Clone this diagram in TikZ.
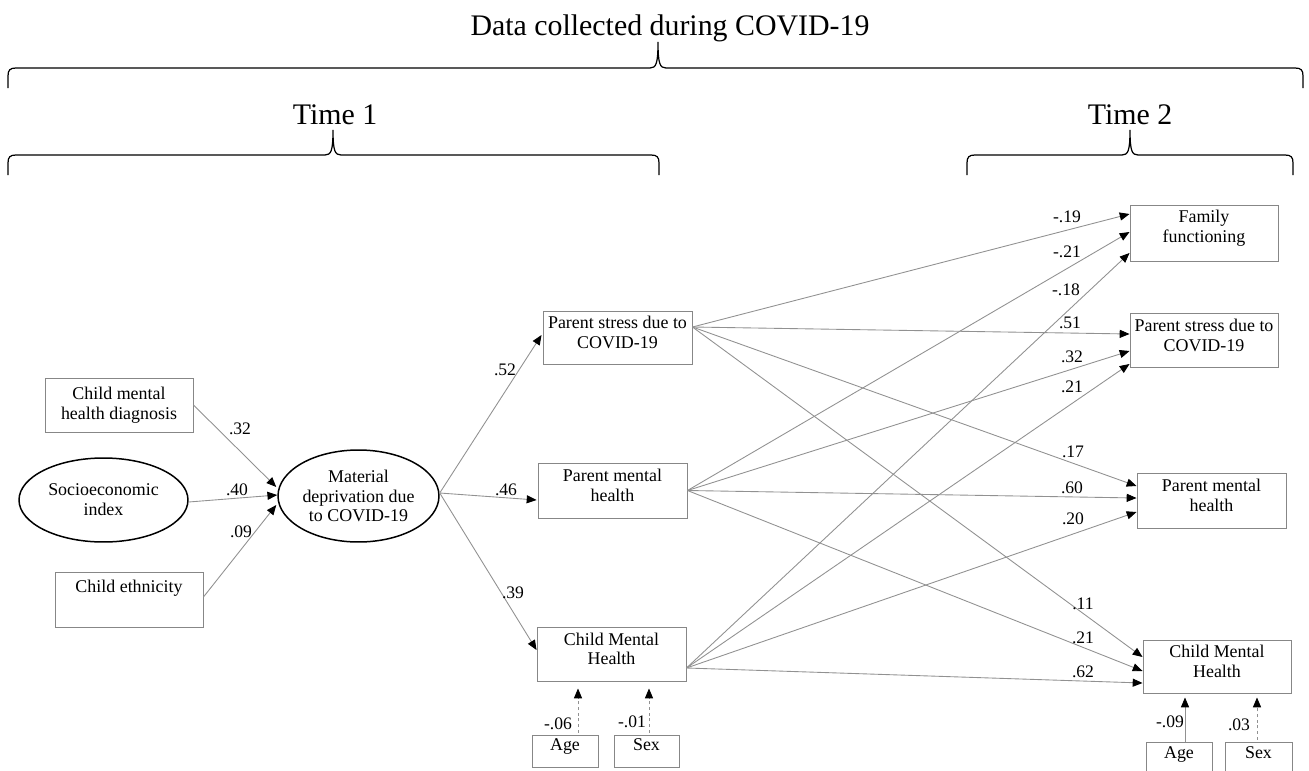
\documentclass[tikz,border=0pt]{standalone}
\usepackage{fontspec}
\setmainfont{Liberation Serif}
\usetikzlibrary{arrows.meta,calc,shapes.geometric}
\definecolor{boxgray}{RGB}{135,135,135}
\definecolor{linegray}{RGB}{145,145,145}
\newcommand{\lowpad}[1]{\rule[-#1]{0pt}{#1}}
\begin{document}
\begin{tikzpicture}[x=0.02cm,y=-0.02cm,
  box/.style={draw=boxgray, line width=0.55pt, inner sep=0pt, align=center, font=\fontsize{10.2}{11.3}\selectfont},
  smallbox/.style={box, text height=7pt, text depth=8.1pt},
  oval/.style={ellipse, draw=black, line width=0.85pt, inner sep=0pt, align=center, font=\fontsize{10.2}{11.3}\selectfont},
  conn/.style={draw=linegray, line width=0.5pt, -{Triangle[length=5.6pt,width=4.6pt,color=black]}},
  dconn/.style={conn, dash pattern=on 1.7pt off 1.5pt},
  coef/.style={inner sep=0pt, font=\fontsize{10}{11}\selectfont},
  head/.style={inner sep=0pt, font=\fontsize{17}{19}\selectfont},
  bracepath/.style={draw=black, line width=0.7pt}
]
\useasboundingbox (0,0) rectangle (1309,771);
\clip (0,0) rectangle (1309,771);

% headings and braces
\node[head, anchor=base] (title) at (670,35) {Data collected during COVID-19};
\node[head, anchor=base] (t1) at (335,124) {Time 1};
\node[head, anchor=base] (t2) at (1130,124) {Time 2};
\draw[bracepath] (8,88) -- (8,76) .. controls (8,70) and (10,68) .. (16,68) -- (650,68)
  .. controls (656,68) and (658,64) .. (658,42) .. controls (658,64) and (660,68) .. (666,68)
  -- (1295,68) .. controls (1301,68) and (1303,70) .. (1303,76) -- (1303,88);
\draw[bracepath] (8,175) -- (8,163) .. controls (8,157) and (10,155) .. (16,155) -- (325,155)
  .. controls (331,155) and (333,151) .. (333,130) .. controls (333,151) and (335,155) .. (341,155)
  -- (651,155) .. controls (657,155) and (659,157) .. (659,163) -- (659,175);
\draw[bracepath] (967,175) -- (967,163) .. controls (967,157) and (969,155) .. (975,155) -- (1122,155)
  .. controls (1128,155) and (1130,151) .. (1130,130) .. controls (1130,151) and (1132,155) .. (1138,155)
  -- (1285,155) .. controls (1291,155) and (1293,157) .. (1293,163) -- (1293,175);

% Time 1 nodes
\node[box, minimum width=2.96cm, minimum height=1.08cm] (cmhd) at (119,405) {Child mental\\health diagnosis};
\node[oval, minimum width=3.38cm, minimum height=1.68cm] (socio) at (103.5,500) {Socioeconomic\\index};
\node[box, minimum width=2.96cm, minimum height=1.1cm] (eth) at (129,599.5) {Child ethnicity\\\strut};
\node[oval, minimum width=3.22cm, minimum height=1.84cm] (mat) at (358.5,496) {Material\\deprivation due\\to COVID-19};
\node[box, minimum width=2.98cm, minimum height=1.06cm] (ps1) at (617.5,337.5) {Parent stress due to\\COVID-19\lowpad{6pt}};
\node[box, minimum width=2.98cm, minimum height=1.1cm] (pmh1) at (612.5,490.5) {Parent mental\\health\lowpad{6pt}};
\node[box, minimum width=2.98cm, minimum height=1.08cm] (cmh1) at (611.5,654) {Child Mental\\Health\lowpad{6pt}};
\node[smallbox, minimum width=1.32cm, minimum height=0.64cm] (age1) at (565,751) {Age};
\node[smallbox, minimum width=1.3cm, minimum height=0.64cm] (sex1) at (646.5,751) {Sex};

% Time 2 nodes
\node[box, minimum width=2.96cm, minimum height=1.12cm] (ff) at (1204,233) {Family\\functioning\lowpad{7.3pt}};
\node[box, minimum width=2.96cm, minimum height=1.08cm] (ps2) at (1204,340) {Parent stress due to\\COVID-19\lowpad{5.5pt}};
\node[box, minimum width=2.98cm, minimum height=1.1cm] (pmh2) at (1211.5,500.5) {Parent mental\\health\lowpad{6pt}};
\node[box, minimum width=2.96cm, minimum height=1.06cm] (cmh2) at (1217,666.5) {Child Mental\\Health\lowpad{5.5pt}};
\node[box, minimum width=1.32cm, minimum height=0.96cm] (age2) at (1179,766) {};
\node[box, minimum width=1.34cm, minimum height=0.96cm] (sex2) at (1258.5,766) {};
\node[box, draw=none, anchor=base] (age2t) at (1179,758) {Age};
\node[box, draw=none, anchor=base] (sex2t) at (1258.5,758) {Sex};

% predictors of material deprivation
\draw[conn] (cmhd.east) -- ($(mat.west)+(-1,-9)$);
\draw[conn] ($(socio.east)+(0,2)$) -- ($(mat.west)+(0,-1)$);
\draw[conn] ($(eth.east)+(0,-2.5)$) -- ($(mat.west)+(-1,9)$);
\node[coef] (c32) at (240,429) {.32};
\node[coef] (c40) at (237,490) {.40};
\node[coef] (c09) at (241,532) {.09};

% material deprivation to time 1 outcomes
\draw[conn] ($(mat.east)+(0,-3)$) -- ($(ps1.west)+(-1,-2.5)$);
\draw[conn] ($(mat.east)+(0,-3)$) -- ($(pmh1.west)+(-1,9.5)$);
\draw[conn] ($(mat.east)+(0,-3)$) -- ($(cmh1.west)+(0,-4)$);
\node[coef] (c52) at (505,370) {.52};
\node[coef] (c46) at (506,490) {.46};
\node[coef] (c39) at (513,593) {.39};

% covariates time 1
\draw[dconn] ($(age1.north)+(13,-2)$) -- ($(cmh1.south)+(-33.5,7)$);
\draw[dconn] ($(sex1.north)+(2.5,-2)$) -- ($(cmh1.south)+(37.5,7)$);
\node[coef] (c06) at (558,724) {-.06};
\node[coef] (c01) at (632,722) {-.01};

% time 1 to time 2
\coordinate (ps1o) at ($(ps1.east)+(0,-10.5)$);
\coordinate (pmh1o) at (pmh1.east);
\coordinate (cmh1o) at ($(cmh1.east)+(0,14)$);
\draw[conn] (ps1o) -- ($(ff.west)+(0,-19)$);
\draw[conn] (ps1o) -- ($(ps2.west)+(0,-6)$);
\draw[conn] (ps1o) -- ($(pmh2.west)+(0,-14.5)$);
\draw[conn] (ps1o) -- ($(cmh2.west)+(0,-9.5)$);
\draw[conn] (pmh1o) -- ($(ff.west)+(0,-1)$);
\draw[conn] (pmh1o) -- ($(ps2.west)+(0,11)$);
\draw[conn] (pmh1o) -- ($(pmh2.west)+(0,-2.5)$);
\draw[conn] (pmh1o) -- ($(cmh2.west)+(0,4.5)$);
\draw[conn] (cmh1o) -- ($(ff.west)+(0,20)$);
\draw[conn] (cmh1o) -- ($(ps2.west)+(0,24)$);
\draw[conn] (cmh1o) -- ($(pmh2.west)+(0,11.5)$);
\draw[conn] (cmh1o) -- ($(cmh2.west)+(0,16.5)$);
\node[coef] (k19) at (1067,217) {-.19};
\node[coef] (k21a) at (1067,252) {-.21};
\node[coef] (k18) at (1066,290) {-.18};
\node[coef] (k51) at (1070,323) {.51};
\node[coef] (k32) at (1072,357) {.32};
\node[coef] (k21b) at (1072,387) {.21};
\node[coef] (k17) at (1073,452) {.17};
\node[coef] (k60) at (1072,488) {.60};
\node[coef] (k20) at (1073,519) {.20};
\node[coef] (k11) at (1083,604) {.11};
\node[coef] (k21c) at (1083,638) {.21};
\node[coef] (k62) at (1083,672) {.62};

% covariates time 2
\draw[conn] ($(age2.north)+(6,0)$) -- ($(cmh2.south)+(-32,4)$);
\draw[dconn] ($(sex2.north)+(-1.5,-2)$) -- ($(cmh2.south)+(40,4)$);
\node[coef] (k09) at (1170,722) {-.09};
\node[coef] (k03) at (1239,725) {.03};
\end{tikzpicture}
\end{document}
